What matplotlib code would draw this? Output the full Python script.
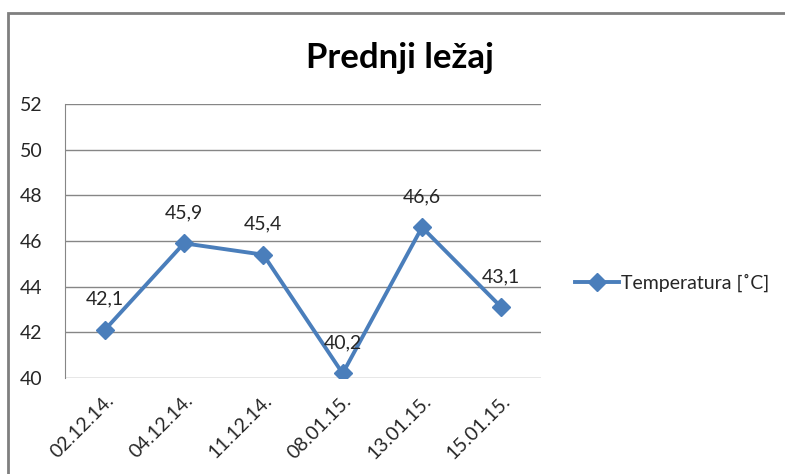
import matplotlib
matplotlib.use("Agg")
from matplotlib import pyplot
from matplotlib.patches import Rectangle

dates = ['02.12.14.', '04.12.14.', '11.12.14.', '08.01.15.', '13.01.15.', '15.01.15.']
temps = [42.1, 45.9, 45.4, 40.2, 46.6, 43.1]
yticks = [40, 42, 44, 46, 48, 50, 52]

pyplot.rcParams['font.family'] = ['Lato', 'DejaVu Sans']

fig = pyplot.figure(figsize=(7.85, 4.74), dpi=100)
ax = fig.add_axes([65/785, 1-378/474, 476/785, 274/474])

# outer chart border (cropped at right and bottom)
fig.patches.append(Rectangle((8/785, -0.5), 3, 1-13/474+0.5, transform=fig.transFigure,
                             fill=False, edgecolor='#7f7f7f', linewidth=2))

x = list(range(len(dates)))
ax.plot(x, temps, color='#4a7ebb', linewidth=2.8, marker='D', markersize=9,
        label='Temperatura [˚C]')
for xi, v in zip(x, temps):
    ax.annotate(f'{v:.1f}'.replace('.', ','), (xi, v), xytext=(0, 16),
                textcoords='offset points', ha='center', va='bottom',
                fontsize=14, color='#262626')

ax.set_xlim(-0.5, len(dates)-0.5)
ax.set_ylim(40, 52)
ax.set_yticks(yticks)
ax.set_yticklabels([str(t) for t in yticks], fontsize=14, color='#262626')
ax.set_xticks(x)
ax.set_xticklabels(dates, rotation=45, ha='right', va='top', fontsize=14,
                   color='#262626', rotation_mode='anchor')
ax.tick_params(axis='both', length=0)
ax.tick_params(axis='y', pad=16)
ax.tick_params(axis='x', pad=10)
ax.grid(True, axis='y', color='#868686', linewidth=1)
ax.set_axisbelow(True)
for s in ['top', 'right', 'bottom']:
    ax.spines[s].set_visible(False)
ax.spines['left'].set_color('#868686')

fig.text(400/785, 1-58/474, 'Prednji ležaj', ha='center', va='center',
         fontsize=25, fontweight='bold', color='black')

fig.legend(loc='center left', bbox_to_anchor=(557/785, 1-283/474), frameon=False,
           fontsize=14, handlelength=2.3, handletextpad=0.1, labelcolor='#262626')

pyplot.savefig('out.png', dpi=100)
